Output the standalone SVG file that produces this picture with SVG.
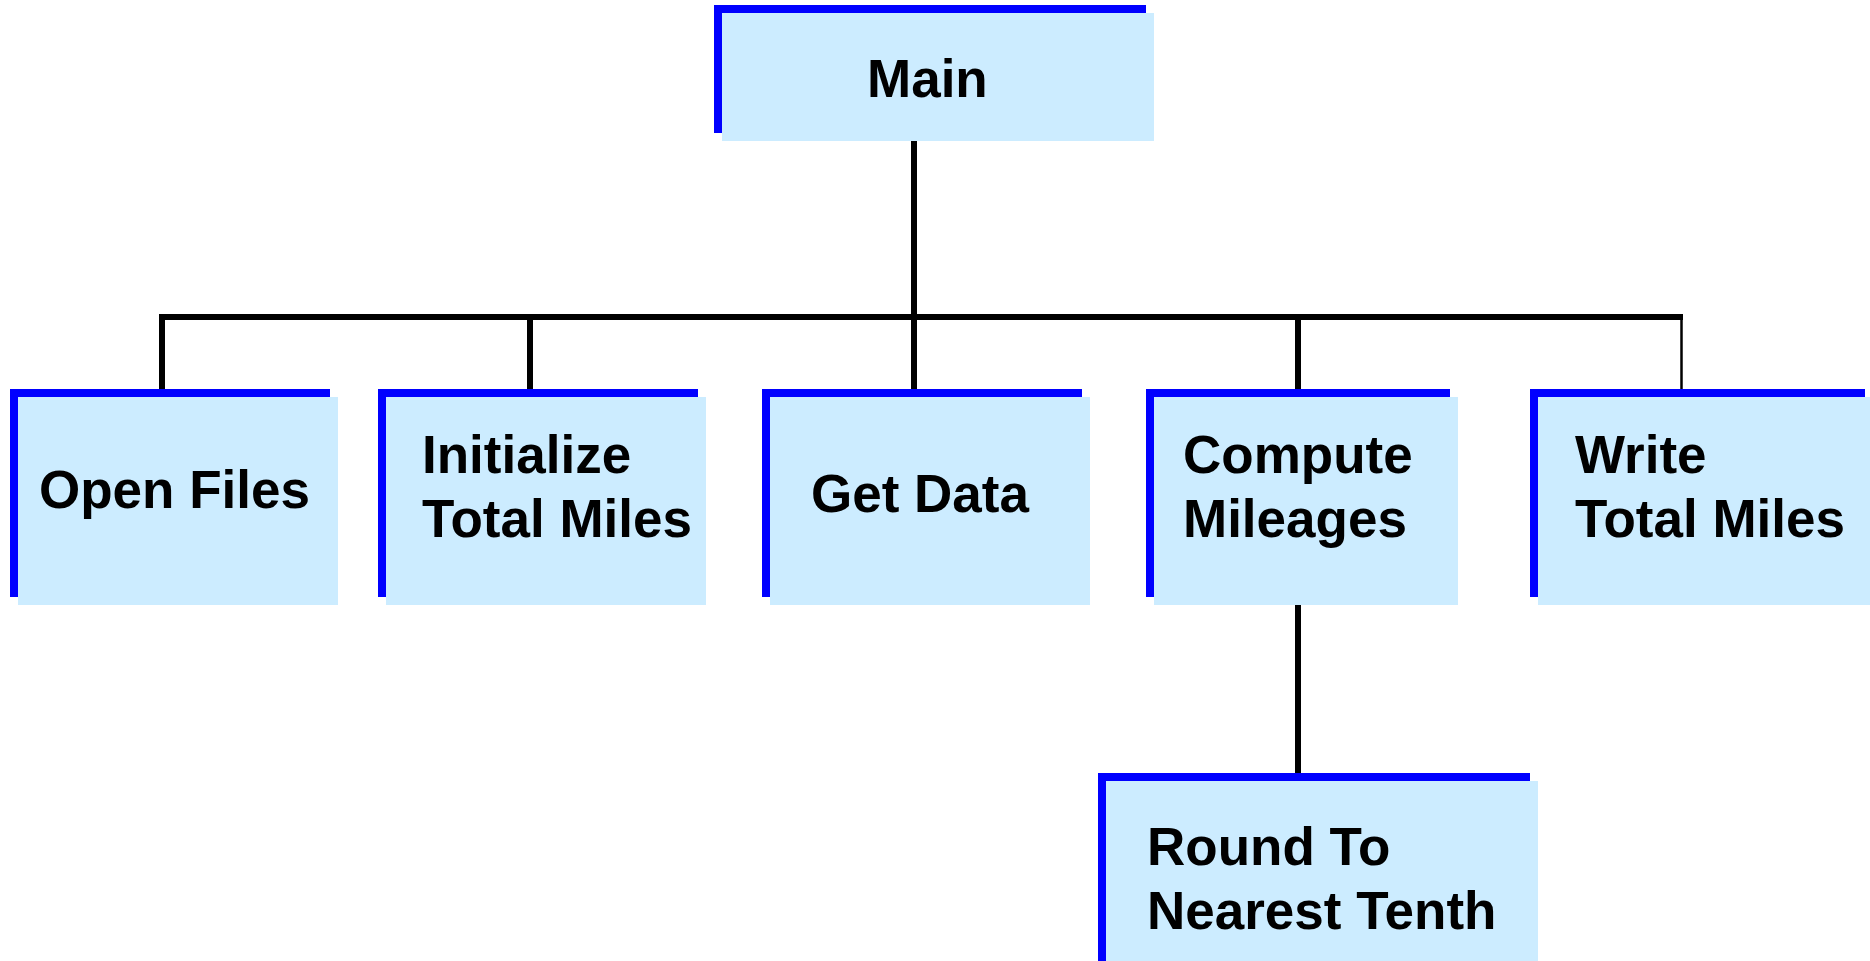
<svg xmlns="http://www.w3.org/2000/svg" width="1870" height="961" viewBox="0 0 1870 961">
  <style>
    .shadow { fill: #0000FF; }
    .face { fill: #CCECFF; }
    .label { font-family: "Liberation Sans", Arial, sans-serif; font-weight: bold; font-size: 53px; fill: #000000; }
    .wire { stroke: #000000; stroke-width: 6; fill: none; stroke-linecap: butt; }
    .wire-thin { stroke: #000000; stroke-width: 2.5; fill: none; }
  </style>
  <rect width="1870" height="961" fill="#FFFFFF"/>

  <!-- connectors -->
  <g id="connectors">
    <line class="wire" x1="914" y1="141" x2="914" y2="317"/>
    <line class="wire" x1="159" y1="317" x2="1683" y2="317"/>
    <line class="wire" x1="162" y1="317" x2="162" y2="397"/>
    <line class="wire" x1="530" y1="317" x2="530" y2="397"/>
    <line class="wire" x1="914" y1="317" x2="914" y2="397"/>
    <line class="wire" x1="1298" y1="317" x2="1298" y2="397"/>
    <line class="wire-thin" x1="1681.5" y1="317" x2="1681.5" y2="397"/>
    <line class="wire" x1="1298" y1="605" x2="1298" y2="781"/>
  </g>

  <!-- module boxes: blue offset backing plus light face -->
  <g id="node-main">
    <rect class="shadow" x="714" y="5" width="432" height="128"/>
    <rect class="face" x="722" y="13" width="432" height="128"/>
    <text class="label" x="867" y="97">Main</text>
  </g>

  <g id="node-open-files">
    <rect class="shadow" x="10" y="389" width="320" height="208"/>
    <rect class="face" x="18" y="397" width="320" height="208"/>
    <text class="label" x="39" y="508">Open Files</text>
  </g>

  <g id="node-initialize">
    <rect class="shadow" x="378" y="389" width="320" height="208"/>
    <rect class="face" x="386" y="397" width="320" height="208"/>
    <text class="label" x="422" y="473">Initialize</text>
    <text class="label" x="422" y="537">Total Miles</text>
  </g>

  <g id="node-get-data">
    <rect class="shadow" x="762" y="389" width="320" height="208"/>
    <rect class="face" x="770" y="397" width="320" height="208"/>
    <text class="label" x="811" y="512">Get Data</text>
  </g>

  <g id="node-compute">
    <rect class="shadow" x="1146" y="389" width="304" height="208"/>
    <rect class="face" x="1154" y="397" width="304" height="208"/>
    <text class="label" x="1183" y="473">Compute</text>
    <text class="label" x="1183" y="537">Mileages</text>
  </g>

  <g id="node-write">
    <rect class="shadow" x="1530" y="389" width="335" height="208"/>
    <rect class="face" x="1538" y="397" width="332" height="208"/>
    <text class="label" x="1575" y="473">Write</text>
    <text class="label" x="1575" y="537">Total Miles</text>
  </g>

  <g id="node-round">
    <rect class="shadow" x="1098" y="773" width="432" height="200"/>
    <rect class="face" x="1106" y="781" width="432" height="200"/>
    <text class="label" x="1147" y="865">Round To</text>
    <text class="label" x="1147" y="929">Nearest Tenth</text>
  </g>
</svg>
